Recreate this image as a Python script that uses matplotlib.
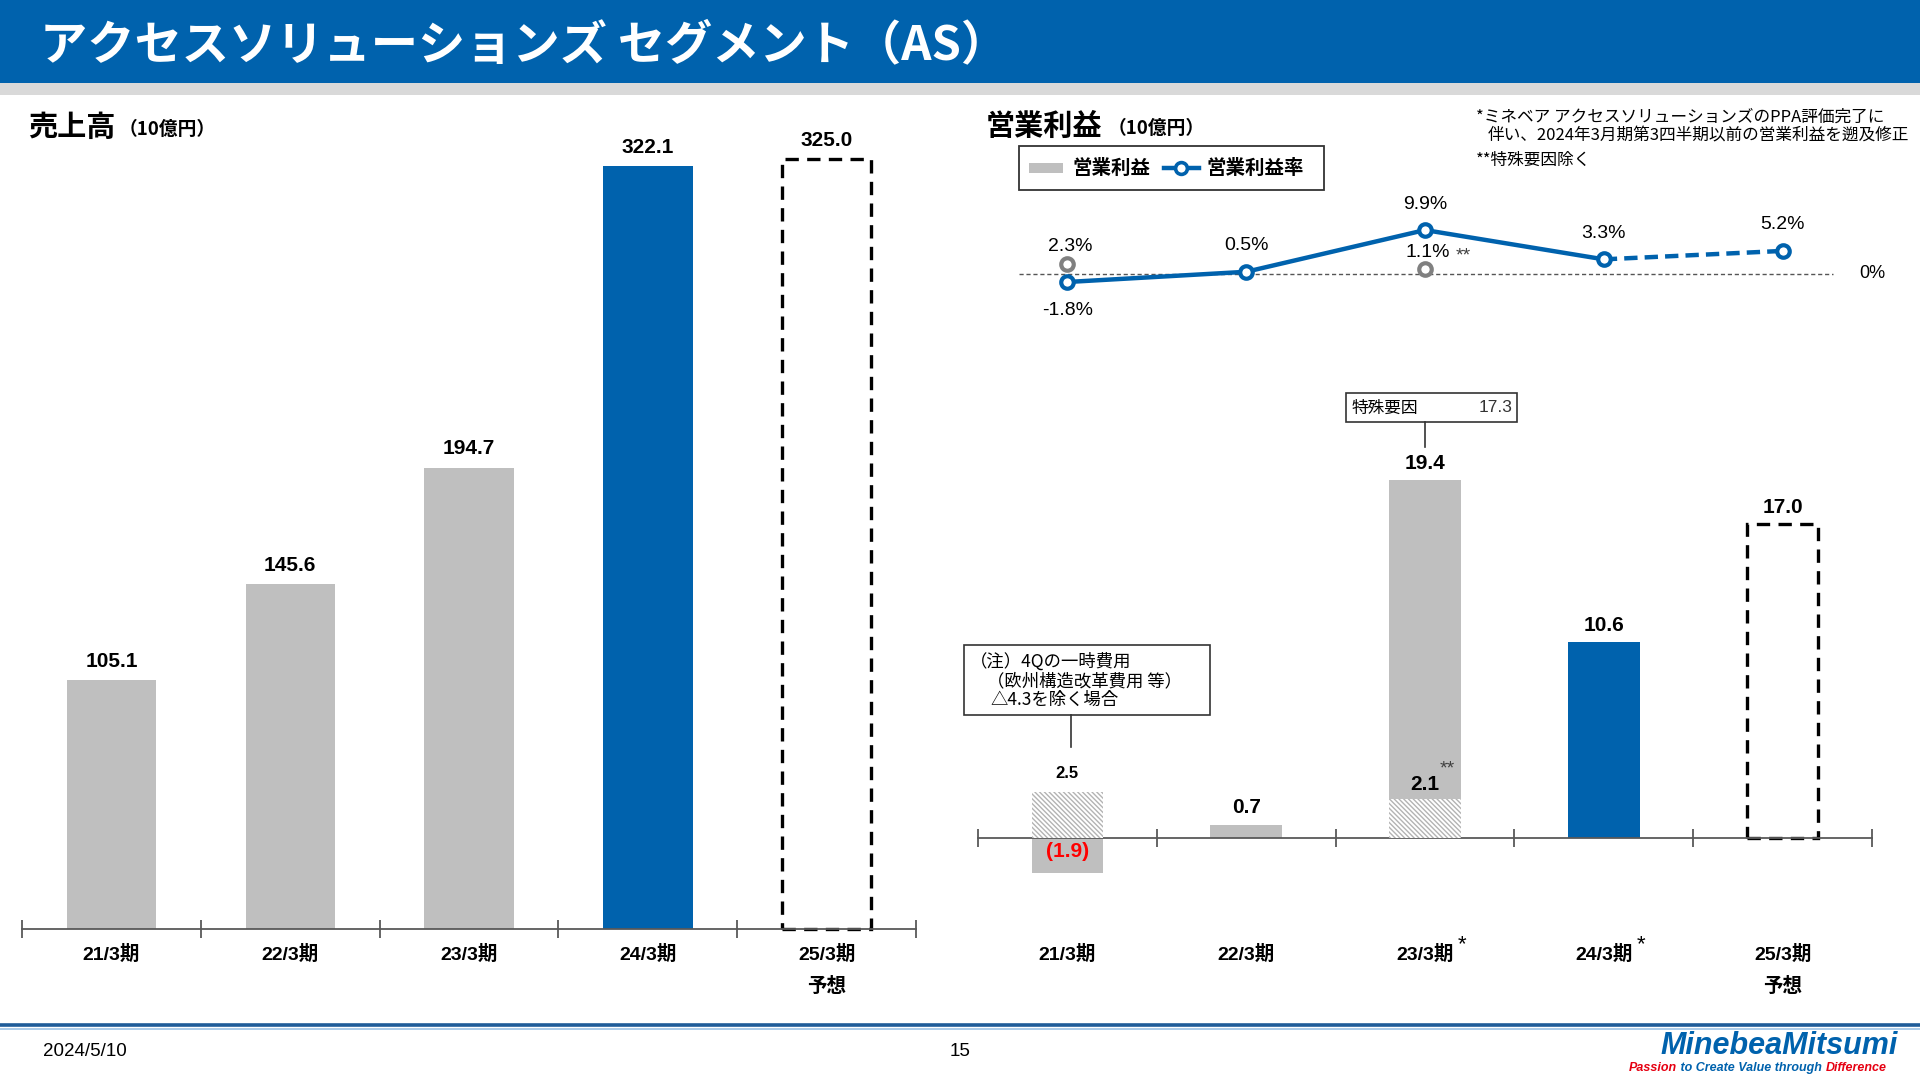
import matplotlib
matplotlib.use('Agg')
import matplotlib.pyplot as plt
from matplotlib.patches import Rectangle
from matplotlib.lines import Line2D
import matplotlib.transforms as mtransforms

plt.rcParams['font.family'] = ['Liberation Sans', 'Noto Sans CJK JP', 'DejaVu Sans']
plt.rcParams['hatch.linewidth'] = 1.0

# ---------------- data ----------------
title = 'アクセスソリューションズ セグメント（AS）'
periods = ['21/3期', '22/3期', '23/3期', '24/3期', '25/3期']
op_period_marks = ['', '', '*', '*', '']
forecast_note = '予想'
bar_kind = ['past', 'past', 'past', 'actual', 'forecast']

sales = [105.1, 145.6, 194.7, 322.1, 325.0]

op_income = [-1.9, 0.7, 19.4, 10.6, 17.0]
op_income_adj = [2.5, None, 2.1, None, None]      # hatched (adjusted) values
op_income_adj_mark = ['', '', '**', '', '']
special_factor = 17.3

op_margin = [-1.8, 0.5, 9.9, 3.3, 5.2]
op_margin_adj = [2.3, None, 1.1, None, None]
op_margin_adj_mark = ['', '', '**', '', '']

note_lines = ['（注）4Qの一時費用', '（欧州構造改革費用 等）', '△4.3を除く場合']
top_notes = ['*ミネベア アクセスソリューションズのPPA評価完了に',
             '伴い、2024年3月期第3四半期以前の営業利益を遡及修正',
             '**特殊要因除く']

# ---------------- style ----------------
W, H = 1920, 1080
BLUE = '#0062AD'
GRAY = '#BFBFBF'
HATCHC = '#B3B3B3'
AXC = '#595959'
CJK = ['Noto Sans CJK JP', 'DejaVu Sans']
MIX = ['Liberation Sans', 'Noto Sans CJK JP', 'DejaVu Sans']

fig = plt.figure(figsize=(19.2, 10.8), dpi=100)
fig.patch.set_facecolor('white')


def fx(x):
    return x / W


def fy(y):
    return 1 - y / H


# header
fig.patches.append(Rectangle((0, fy(83)), 1, 83 / H, transform=fig.transFigure,
                             facecolor=BLUE, edgecolor='none', zorder=0))
fig.patches.append(Rectangle((0, fy(95)), 1, 12 / H, transform=fig.transFigure,
                             facecolor='#D9D9D9', edgecolor='none', zorder=0))
fig.text(fx(40), fy(45), title, color='white', fontsize=34, fontweight='bold',
         va='center', ha='left', family=CJK)

# footer
fig.add_artist(Line2D([0, 1], [fy(1025), fy(1025)], color='#1F5C99', lw=2.6))
fig.add_artist(Line2D([0, 1], [fy(1029), fy(1029)], color='#9DC3E6', lw=1.2))
fig.text(fx(43), fy(1051), '2024/5/10', fontsize=13.5, va='center', ha='left', family=MIX)
fig.text(fx(960), fy(1051), '15', fontsize=13.5, va='center', ha='center', family=MIX)
fig.text(fx(1898), fy(1046), 'MinebeaMitsumi', fontsize=22, fontweight='bold',
         fontstyle='italic', color=BLUE, va='center', ha='right', family=MIX)

renderer = fig.canvas.get_renderer()
tag_parts = [('Passion', '#E60012'), (' to Create Value through ', BLUE), ('Difference', '#E60012')]
xcur = 1629
for s, c in tag_parts:
    t = fig.text(fx(xcur), fy(1068), s, fontsize=9, fontweight='bold', fontstyle='italic',
                 color=c, va='center', ha='left', family=MIX)
    bb = t.get_window_extent(renderer=renderer)
    xcur = bb.x1

# ---------------- left: sales ----------------
tick_pos = [i - 0.5 for i in range(len(periods) + 1)]
L_BASE, L_TOP, L_SCALE = 929.4, 120, 2.37
axL = fig.add_axes([fx(22), fy(L_BASE), (916 - 22) / W, (L_BASE - L_TOP) / H])
axL.set_xlim(-0.5, len(periods) - 0.5)
axL.set_ylim(0, (L_BASE - L_TOP) / L_SCALE)

for i, v in enumerate(sales):
    if bar_kind[i] == 'forecast':
        axL.bar(i, v, width=0.5, facecolor='white', edgecolor='black',
                linestyle=(0, (4, 2.5)), linewidth=2.4, zorder=2, clip_on=False)
    else:
        axL.bar(i, v, width=0.5, color=BLUE if bar_kind[i] == 'actual' else GRAY, zorder=2)
    axL.annotate(f'{v:.1f}', xy=(i, v), xytext=(0, 19), textcoords='offset pixels',
                 ha='center', va='center', fontsize=15, fontweight='bold', family=MIX)


def style_bar_axis(ax):
    for s in ['top', 'right', 'left']:
        ax.spines[s].set_visible(False)
    ax.spines['bottom'].set_position(('data', 0))
    ax.spines['bottom'].set_color(AXC)
    ax.spines['bottom'].set_linewidth(1.3)
    ax.set_xticks(tick_pos)
    ax.set_yticks([])
    ax.tick_params(axis='x', direction='inout', length=13, width=1.3, color=AXC,
                   labelbottom=False)
    ax.patch.set_alpha(0)


style_bar_axis(axL)
trL = mtransforms.blended_transform_factory(axL.transData, fig.transFigure)
for i, p in enumerate(periods):
    axL.text(i, fy(954), p, transform=trL, ha='center', va='center',
             fontsize=14, fontweight='bold', family=MIX)
    if bar_kind[i] == 'forecast':
        axL.text(i, fy(986), forecast_note, transform=trL, ha='center', va='center',
                 fontsize=14, fontweight='bold', family=MIX)

fig.text(fx(28), fy(127), '売上高', fontsize=21, fontweight='bold', va='center',
         ha='left', family=CJK)
fig.text(fx(119), fy(129), '（10億円）', fontsize=13.5, fontweight='bold', va='center',
         ha='left', family=CJK)

# ---------------- right: operating income bars ----------------
R_BASE, R_TOP, R_BOT, R_SCALE = 837.6, 400, 900, 18.43
axR = fig.add_axes([fx(978), fy(R_BOT), (1872 - 978) / W, (R_BOT - R_TOP) / H])
axR.set_xlim(-0.5, len(periods) - 0.5)
axR.set_ylim(-(R_BOT - R_BASE) / R_SCALE, (R_BASE - R_TOP) / R_SCALE)

HATCH = '\\' * 7
for i, v in enumerate(op_income):
    kind = bar_kind[i]
    if kind == 'forecast':
        axR.bar(i, v, width=0.4, facecolor='white', edgecolor='black',
                linestyle=(0, (4, 2.5)), linewidth=2.4, zorder=2, clip_on=False)
    else:
        axR.bar(i, v, width=0.4, color=BLUE if kind == 'actual' else GRAY, zorder=2)
    adj = op_income_adj[i]
    if adj is not None:
        axR.bar(i, adj, width=0.4, facecolor='white', edgecolor=HATCHC, hatch=HATCH,
                linewidth=0, zorder=3)
    if v < 0:
        axR.annotate(f'({abs(v):.1f})', xy=(i, v / 2), xytext=(0, 4), textcoords='offset pixels',
                     ha='center', va='center', fontsize=15, fontweight='bold',
                     color='#FF0000', family=MIX, zorder=5)
        if adj is not None:
            axR.annotate(f'{adj:.1f}', xy=(i, adj), xytext=(0, 18), textcoords='offset pixels',
                         ha='center', va='center', fontsize=12, fontweight='bold', family=MIX)
    else:
        axR.annotate(f'{v:.1f}', xy=(i, v), xytext=(0, 17), textcoords='offset pixels',
                     ha='center', va='center', fontsize=15, fontweight='bold', family=MIX)
        if adj is not None:
            axR.annotate(f'{adj:.1f}', xy=(i, adj), xytext=(0, 14), textcoords='offset pixels',
                         ha='center', va='center', fontsize=15, fontweight='bold',
                         family=MIX, zorder=5)
            axR.annotate(op_income_adj_mark[i], xy=(i, adj), xytext=(22, 30),
                         textcoords='offset pixels', ha='center', va='center',
                         fontsize=14, family=MIX, zorder=5, color='#404040')

style_bar_axis(axR)
trR = mtransforms.blended_transform_factory(axR.transData, fig.transFigure)
for i, p in enumerate(periods):
    axR.text(i, fy(954), p, transform=trR, ha='center', va='center',
             fontsize=14, fontweight='bold', family=MIX)
    if op_period_marks[i]:
        axR.annotate(op_period_marks[i], xy=(i, fy(954)), xycoords=trR, xytext=(37, 9),
                     textcoords='offset pixels', ha='center', va='center', fontsize=16,
                     family=MIX)
    if bar_kind[i] == 'forecast':
        axR.text(i, fy(986), forecast_note, transform=trR, ha='center', va='center',
                 fontsize=14, fontweight='bold', family=MIX)

# special factor callout (23/3)
fig.patches.append(Rectangle((fx(1346), fy(422)), (1517 - 1346) / W, (422 - 393) / H,
                             transform=fig.transFigure, facecolor='white',
                             edgecolor='#333333', lw=1.2))
fig.add_artist(Line2D([fx(1425), fx(1425)], [fy(422), fy(447)], color='#333333', lw=1.2))
fig.text(fx(1352), fy(408), '特殊要因', fontsize=12, va='center', ha='left', family=CJK)
fig.text(fx(1512), fy(408), f'{special_factor:.1f}', fontsize=12.5, va='center', ha='right',
         family=MIX, color='#333333')

# note callout (21/3)
fig.patches.append(Rectangle((fx(964), fy(715)), (1210 - 964) / W, (715 - 645) / H,
                             transform=fig.transFigure, facecolor='white',
                             edgecolor='#333333', lw=1.2))
fig.add_artist(Line2D([fx(1071), fx(1071)], [fy(715), fy(747)], color='#333333', lw=1.2))
for txt, xx, yy in zip(note_lines, [970, 987, 990], [662, 681, 700]):
    fig.text(fx(xx), fy(yy), txt, fontsize=12.5, va='center', ha='left', family=CJK)

fig.text(fx(986), fy(126), '営業利益', fontsize=21, fontweight='bold', va='center',
         ha='left', family=CJK)
fig.text(fx(1108), fy(128), '（10億円）', fontsize=13.5, fontweight='bold', va='center',
         ha='left', family=CJK)

# legend
fig.patches.append(Rectangle((fx(1019), fy(190)), (1324 - 1019) / W, (190 - 146) / H,
                             transform=fig.transFigure, facecolor='white',
                             edgecolor='#333333', lw=1.3))
fig.patches.append(Rectangle((fx(1029), fy(173)), 34 / W, 10 / H, transform=fig.transFigure,
                             facecolor=GRAY, edgecolor='none'))
fig.text(fx(1072), fy(168), '営業利益', fontsize=14, fontweight='bold', va='center',
         ha='left', family=CJK)
fig.add_artist(Line2D([fx(1164), fx(1199)], [fy(168), fy(168)], color=BLUE, lw=3.2))
fig.add_artist(Line2D([fx(1181)], [fy(168)], marker='o', ms=8.5, mfc='white', mec=BLUE,
                      mew=2.6, lw=0))
fig.text(fx(1207), fy(168), '営業利益率', fontsize=14, fontweight='bold', va='center',
         ha='left', family=CJK)

# top right notes
fig.text(fx(1476), fy(117), top_notes[0], fontsize=12, va='center', ha='left', family=CJK)
fig.text(fx(1488), fy(136), top_notes[1], fontsize=12, va='center', ha='left', family=CJK)
fig.text(fx(1476), fy(160), top_notes[2], fontsize=12, va='center', ha='left', family=CJK)

# ---------------- right: operating margin line ----------------
M_ZERO, M_TOP, M_BOT, M_SCALE = 274, 200, 330, 4.44
axM = fig.add_axes([fx(978), fy(M_BOT), (1872 - 978) / W, (M_BOT - M_TOP) / H])
axM.set_xlim(-0.5, len(periods) - 0.5)
axM.set_ylim(-(M_BOT - M_ZERO) / M_SCALE, (M_ZERO - M_TOP) / M_SCALE)
axM.axis('off')

axM.plot([-0.27, 4.28], [0, 0], color='#555555', lw=1, linestyle=(0, (3, 2)), zorder=1)
axM.annotate('0%', xy=(4.5, 0), xycoords='data', ha='center', va='center',
             fontsize=13, family=MIX, annotation_clip=False)

xs = list(range(len(periods)))
n_act = bar_kind.index('forecast')
axM.plot(xs[:n_act], op_margin[:n_act], color=BLUE, lw=3.2, zorder=2, solid_capstyle='round')
axM.plot(xs[n_act - 1:], op_margin[n_act - 1:], color=BLUE, lw=3.2,
         linestyle=(0, (3, 1.6)), zorder=2)

for i, v in enumerate(op_margin_adj):
    if v is not None:
        axM.plot(i, v, marker='o', ms=9, mfc='white', mec='#808080', mew=3, zorder=3,
                 clip_on=False)
        axM.annotate(f'{v:.1f}%', xy=(i, v), xytext=(3, 17), textcoords='offset pixels',
                     ha='center', va='center', fontsize=14, family=MIX)
        if op_margin_adj_mark[i]:
            axM.annotate(op_margin_adj_mark[i], xy=(i, v), xytext=(38, 13),
                         textcoords='offset pixels', ha='center', va='center',
                         fontsize=14, family=MIX, color='#404040')

axM.plot(xs, op_margin, linestyle='none', marker='o', ms=9, mfc='white', mec=BLUE,
         mew=3, zorder=4, clip_on=False)
for i, v in enumerate(op_margin):
    off = 26 if v >= 0 else -29
    axM.annotate(f'{v:.1f}%', xy=(i, v), xytext=(0, off), textcoords='offset pixels',
                 ha='center', va='center', fontsize=14, family=MIX)

fig.savefig('out.png', dpi=100, facecolor='white')
